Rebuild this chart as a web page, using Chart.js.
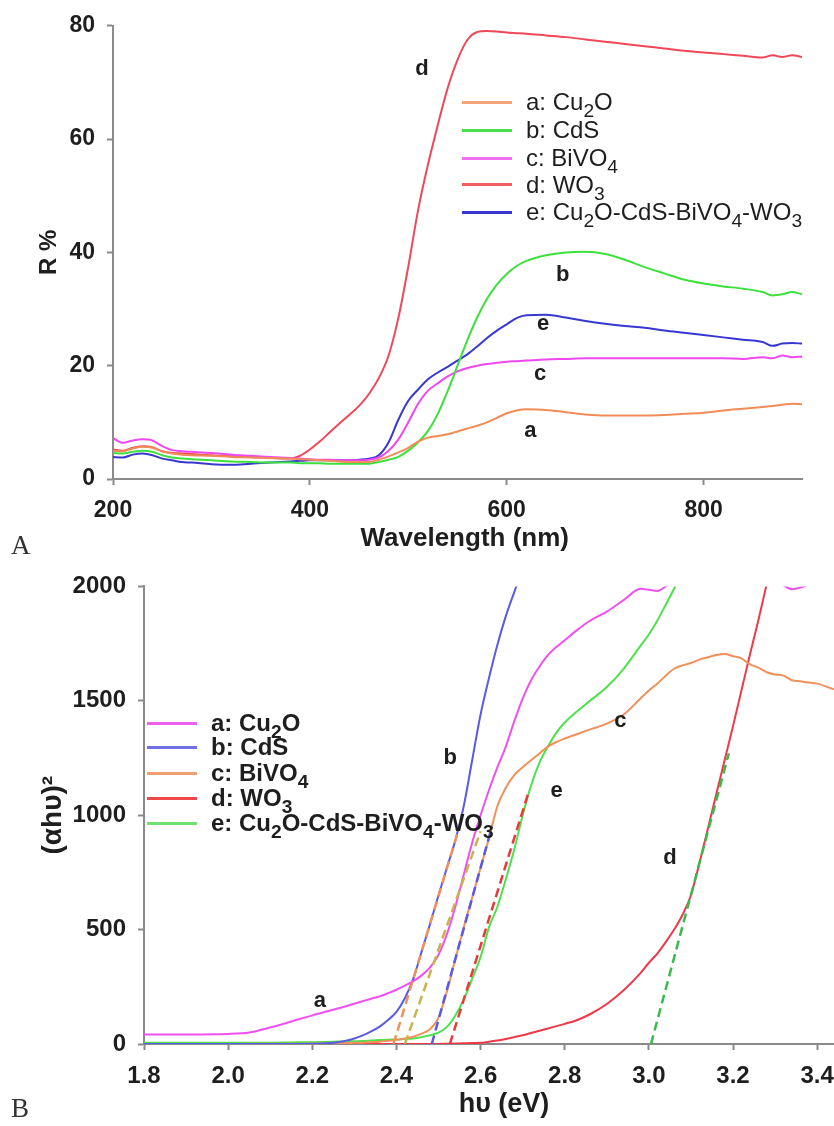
<!DOCTYPE html>
<html>
<head>
<meta charset="utf-8">
<script src="https://cdn.jsdelivr.net/npm/chart.js@4.4.1/dist/chart.umd.min.js"></script>
<style>
  body { margin: 0; background: #fff; }
  #wrap { position: relative; width: 834px; height: 1126px; overflow: hidden; font-family: "Liberation Sans", Arial, sans-serif; color: #1e1e1e; }
  canvas { position: absolute; left: 0; }
  #chartA { top: 0; }
  #chartB { top: 560px; }
  .row { position: absolute; white-space: nowrap; display: flex; align-items: center; height: 26px; }
  .swatch { display: inline-block; width: 50px; height: 3px; margin-right: 14px; }
  .row sub { font-size: 80%; vertical-align: -0.35em; line-height: 0; }
  .panel { position: absolute; font-family: "Liberation Serif", serif; font-size: 27px; color: #333; line-height: 1; }
</style>
</head>
<body>
<div id="wrap">
  <canvas id="chartA" width="834" height="560"></canvas>
  <canvas id="chartB" width="834" height="566"></canvas>
  <div class="panel" style="left:11px; top:532px;">A</div>
  <div class="panel" style="left:11px; top:1095px;">B</div>
</div>
<script>
// ---------- A: reflectance spectra ----------
const wavelength = [200,210,220,230,240,250,260,270,280,300,320,340,360,380,390,400,410,420,430,440,450,460,470,480,490,500,510,520,530,540,550,560,570,580,590,600,610,620,640,660,680,700,720,740,760,780,800,820,840,860,870,880,890,900];
const rCu2O = [5.0,4.9,5.4,5.7,5.5,4.9,4.5,4.3,4.2,4.1,3.9,3.8,3.7,3.6,3.5,3.4,3.3,3.2,3.1,3.0,3.0,3.0,3.4,4.0,4.7,5.5,6.6,7.3,7.6,7.9,8.4,8.9,9.4,10.0,10.8,11.6,12.1,12.3,12.2,11.8,11.4,11.2,11.2,11.2,11.3,11.5,11.7,12.1,12.4,12.7,12.9,13.1,13.3,13.2];
const rCdS = [4.6,4.5,4.8,5.0,4.8,4.2,3.8,3.6,3.5,3.3,3.1,3.0,2.9,2.9,2.8,2.8,2.8,2.7,2.7,2.7,2.7,2.7,3.0,3.4,3.9,5.0,6.5,8.5,11.5,15.5,20.0,24.5,28.5,31.8,34.3,36.2,37.6,38.5,39.5,40.0,40.1,39.7,38.7,37.4,36.3,35.2,34.5,34.0,33.6,33.0,32.4,32.6,33.0,32.6];
const rBiVO4 = [7.2,6.4,6.8,7.0,6.8,5.8,5.1,4.9,4.8,4.6,4.3,4.1,3.9,3.7,3.6,3.5,3.4,3.4,3.3,3.3,3.3,3.4,3.8,5.0,7.0,10.0,13.3,15.6,16.9,18.1,19.0,19.6,20.0,20.3,20.5,20.7,20.8,20.9,21.1,21.2,21.3,21.3,21.3,21.3,21.3,21.3,21.3,21.3,21.2,21.5,21.3,21.8,21.5,21.6];
const rWO3 = [5.2,5.0,5.5,5.8,5.6,4.9,4.6,4.5,4.4,4.2,4.0,3.9,3.7,3.6,4.1,5.2,6.6,8.2,9.8,11.3,12.9,15.0,17.8,21.8,28.5,37.5,47.5,55.5,62.5,69.0,74.0,77.5,78.9,79.1,79.0,78.8,78.7,78.6,78.3,78.0,77.6,77.2,76.8,76.4,76.0,75.6,75.3,75.0,74.7,74.4,74.8,74.5,74.8,74.5];
const rComposite = [3.9,3.8,4.3,4.5,4.2,3.6,3.3,3.0,2.9,2.6,2.5,2.7,2.9,3.1,3.2,3.3,3.3,3.3,3.3,3.3,3.4,3.6,4.2,6.5,10.5,13.8,15.8,17.6,18.8,19.8,20.9,22.0,23.4,24.9,26.2,27.3,28.4,28.9,29.0,28.5,27.9,27.4,27.0,26.7,26.2,25.8,25.4,25.0,24.6,24.2,23.5,23.9,24.0,23.9];
const wlTicks = [200, 400, 600, 800];
const rTicks = [0, 20, 40, 60, 80];
const labelsA = ['a', 'b', 'c', 'd', 'e'];
const labelsAX = [624, 657, 634, 514, 637];
const labelsAY = [8.5, 36, 18.5, 72.3, 27.3];

// ---------- B: Tauc plot ----------
const energy = [1.80,1.90,2.00,2.05,2.10,2.15,2.20,2.25,2.28,2.30,2.32,2.34,2.36,2.38,2.40,2.42,2.44,2.46,2.48,2.50,2.52,2.54,2.56,2.58,2.60,2.62,2.64,2.66,2.68,2.70,2.72,2.74,2.76,2.78,2.80,2.83,2.86,2.90,2.94,2.98,3.00,3.02,3.04,3.06,3.08,3.10,3.12,3.14,3.16,3.18,3.20,3.22,3.24,3.26,3.28,3.30,3.32,3.34,3.36,3.38,3.40,3.44];
const tCu2O = [42,42,44,50,72,98,125,150,165,176,187,198,208,222,237,255,275,300,335,390,480,600,740,880,1000,1110,1210,1300,1410,1510,1590,1650,1700,1735,1765,1810,1850,1890,1940,1990,1985,1980,2000,2030,2060,null,null,null,null,null,null,null,null,null,null,2030,2004,1988,1995,2010,2040,null];
const tCdS = [0,0,0,0,0,0,1,5,14,24,38,55,76,105,140,200,285,405,525,650,770,890,1040,1240,1440,1600,1745,1870,1975,2080,null,null,null,null,null,null,null,null,null,null,null,null,null,null,null,null,null,null,null,null,null,null,null,null,null,null,null,null,null,null,null,null];
const tBiVO4 = [0,0,0,1,1,1,2,3,4,5,6,8,10,14,18,24,32,45,65,115,230,370,510,640,770,900,1040,1120,1175,1210,1240,1270,1300,1320,1335,1355,1375,1400,1440,1510,1545,1575,1610,1640,1655,1665,1680,1690,1700,1705,1695,1685,1660,1645,1625,1615,1610,1590,1585,1580,1575,1550];
const tWO3 = [0,0,0,0,0,0,0,0,0,0,0,0,0,0,0,0,0,0,0,0,1,2,3,4,5,10,15,22,30,38,48,58,68,78,88,105,130,175,235,310,355,395,445,500,565,650,790,940,1090,1240,1390,1545,1700,1850,2010,null,null,null,null,null,null,null];
const tComposite = [5,5,5,6,6,7,8,10,11,12,13,15,17,19,20,22,24,30,38,50,75,125,195,285,380,510,600,720,850,1000,1130,1230,1300,1360,1405,1455,1500,1560,1640,1740,1790,1850,1920,1990,2060,null,null,null,null,null,null,null,null,null,null,null,null,null,null,null,null,null];
// extrapolated band-edge tangents: start on the axis, end point
const tangentStartEv = [2.393, 2.42, 2.484, 2.527, 3.005];
const tangentEndEv = [2.545, 2.60, 2.627, 2.714, 3.19];
const tangentEndVal = [920, 930, 950, 1100, 1270];
const evTicks = [1.8, 2.0, 2.2, 2.4, 2.6, 2.8, 3.0, 3.2, 3.4];
const tTicks = [0, 500, 1000, 1500, 2000];
const labelsB = ['a', 'b', 'c', 'd', 'e'];
const labelsBX = [2.218, 2.528, 2.932, 3.05, 2.781];
const labelsBY = [188, 1249, 1412, 812, 1107];

const legendNames = ['a: Cu<sub>2</sub>O', 'b: CdS', 'c: BiVO<sub>4</sub>', 'd: WO<sub>3</sub>', 'e: Cu<sub>2</sub>O-CdS-BiVO<sub>4</sub>-WO<sub>3</sub>'];

const FONT = '"Liberation Sans", Arial, sans-serif';
const gray = '#8a8a8a';
const ink = '#1e1e1e';
const colorsA = ['#f08c58', '#3ee03e', '#ee48ee', '#f04858', '#3838d0'];
const colorsB = ['#f050f0', '#5a5ae6', '#f0905a', '#f03848', '#4ee04e'];
const tangentColors = ['#f0905a', '#c8b44a', '#5a5ae6', '#e83a3a', '#3cb84c'];

Chart.defaults.font.family = FONT;

function points(xs, ys) {
  return xs.map((x, i) => ({x: x, y: ys[i]}));
}

function curve(data, color) {
  return {data: data, borderColor: color, borderWidth: 2, pointRadius: 0, fill: false, cubicInterpolationMode: 'monotone', spanGaps: false};
}

function axis(o) {
  return {
    type: 'linear',
    min: o.min,
    max: o.max,
    afterBuildTicks: s => { s.ticks = o.ticks.map(v => ({value: v})); },
    afterFit: s => {
      if (o.width) s.width = o.width;
      if (o.height) s.height = o.height;
      // keep the plot edges where the figure has them
      s.paddingLeft = 0; s.paddingRight = 0;
    },
    border: {display: true, color: gray, width: 2},
    grid: {display: true, drawOnChartArea: false, drawTicks: true, tickLength: 6, tickColor: gray, tickWidth: 2},
    ticks: {color: ink, padding: o.tickPad, autoSkip: false, maxRotation: 0,
            font: {size: o.tickSize, weight: 'bold'}, callback: o.fmt},
    title: {display: true, text: o.title, color: ink, padding: o.titlePad,
            font: {size: o.titleSize, weight: 'bold'}}
  };
}

const curveLabels = {
  id: 'curveLabels',
  afterDatasetsDraw(chart, args, opts) {
    const ctx = chart.ctx, xs = chart.scales.x, ys = chart.scales.y;
    ctx.save();
    ctx.font = 'bold ' + opts.size + 'px ' + FONT;
    ctx.fillStyle = ink;
    ctx.textAlign = 'center';
    ctx.textBaseline = 'middle';
    opts.text.forEach((t, i) => ctx.fillText(t, xs.getPixelForValue(opts.xs[i]), ys.getPixelForValue(opts.ys[i])));
    ctx.restore();
  }
};

const seriesA = [rCu2O, rCdS, rBiVO4, rWO3, rComposite];
new Chart(document.getElementById('chartA'), {
  type: 'line',
  data: {datasets: seriesA.map((s, i) => curve(points(wavelength, s), colorsA[i]))},
  options: {
    responsive: false,
    animation: false,
    layout: {padding: {left: 0, top: 22, right: 32, bottom: 0}},
    plugins: {legend: {display: false}, tooltip: {enabled: false},
              curveLabels: {text: labelsA, xs: labelsAX, ys: labelsAY, size: 22}},
    scales: {
      x: axis({min: 200, max: 900, ticks: wlTicks, height: 81, tickPad: 12, tickSize: 23,
               fmt: v => String(v), title: '  Wavelength (nm)', titleSize: 26, titlePad: {top: 0, bottom: 6}}),
      y: axis({min: 0, max: 80, ticks: rTicks, width: 113, tickPad: 12, tickSize: 23,
               fmt: v => String(v), title: 'R %', titleSize: 24, titlePad: {top: 35, bottom: 0}})
    }
  },
  plugins: [curveLabels]
});

const seriesB = [tCu2O, tCdS, tBiVO4, tWO3, tComposite];
const tangents = tangentStartEv.map((x0, i) => ({
  data: points([x0, tangentEndEv[i]], [0, tangentEndVal[i]]),
  borderColor: tangentColors[i], borderWidth: 2.5, borderDash: [9, 5], pointRadius: 0, fill: false, tension: 0
}));
new Chart(document.getElementById('chartB'), {
  type: 'line',
  data: {datasets: tangents.concat(seriesB.map((s, i) => curve(points(energy, s), colorsB[i])))},
  options: {
    responsive: false,
    animation: false,
    layout: {padding: {left: 0, top: 26, right: 0, bottom: 0}},
    plugins: {legend: {display: false}, tooltip: {enabled: false},
              curveLabels: {text: labelsB, xs: labelsBX, ys: labelsBY, size: 22}},
    scales: {
      x: axis({min: 1.8, max: 3.44, ticks: evTicks, height: 82, tickPad: 12, tickSize: 24,
               fmt: v => v.toFixed(1), title: '    hυ (eV)', titleSize: 27, titlePad: {top: 0, bottom: 5}}),
      y: axis({min: 0, max: 2000, ticks: tTicks, width: 144, tickPad: 12, tickSize: 24,
               fmt: v => String(v), title: '(αhυ)²', titleSize: 28, titlePad: {top: 36, bottom: 0}})
    }
  },
  plugins: [curveLabels]
});

// HTML legends inside the plot areas
function legend(left, centers, colors, size, weight) {
  const wrap = document.getElementById('wrap');
  legendNames.forEach((name, i) => {
    const row = document.createElement('div');
    row.className = 'row';
    row.style.left = left + 'px';
    row.style.top = (centers[i] - 13) + 'px';
    row.style.fontSize = size + 'px';
    row.style.fontWeight = weight;
    row.innerHTML = '<span class="swatch" style="background:' + colors[i] + '"></span><span>' + name + '</span>';
    wrap.appendChild(row);
  });
}
legend(462, [102, 130, 158, 184.5, 212], ['#f4a478', '#48e048', '#f070f0', '#f06060', '#3838d0'], 24, 'normal');
legend(147, [723, 747, 773, 798, 823], ['#f060f0', '#7070e6', '#f0a070', '#f04848', '#70e070'], 24, 'bold');
</script>
</body>
</html>
